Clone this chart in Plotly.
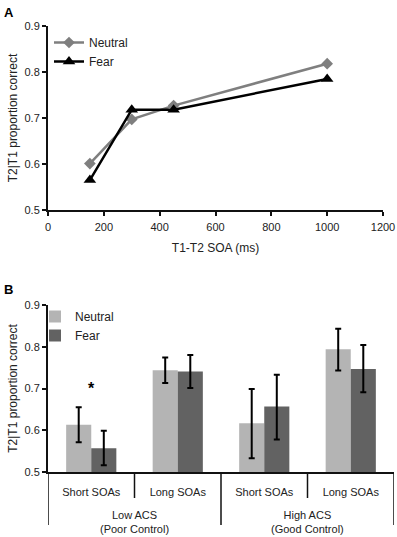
import plotly.graph_objects as go

# Panel A data
soa_ms = [150, 300, 450, 1000]
neutral_line = [0.601, 0.697, 0.727, 0.818]
fear_line = [0.565, 0.718, 0.718, 0.785]
a_xticks = [0, 200, 400, 600, 800, 1000, 1200]
y_ticks = [0.5, 0.6, 0.7, 0.8, 0.9]
y_ticktext = ["0.5", "0.6", "0.7", "0.8", "0.9"]

# Panel B data
group_labels = ["Low ACS<br>(Poor Control)", "Low ACS<br>(Poor Control)",
                "High ACS<br>(Good Control)", "High ACS<br>(Good Control)"]
soa_labels = ["Short SOAs", "Long SOAs", "Short SOAs", "Long SOAs"]
neutral_bar = [0.613, 0.744, 0.617, 0.794]
neutral_err_hi = [0.042, 0.030, 0.082, 0.049]
neutral_err_lo = [0.042, 0.031, 0.084, 0.051]
fear_bar = [0.557, 0.741, 0.657, 0.747]
fear_err_hi = [0.042, 0.039, 0.076, 0.057]
fear_err_lo = [0.041, 0.040, 0.079, 0.056]

FONT = "Liberation Sans, Arial, sans-serif"
AX = "#111111"
TXT = "#222222"

pos = list(range(len(soa_labels)))
groups = []
for g in group_labels:
    if g not in groups:
        groups.append(g)
group_idx = {g: [i for i, gg in enumerate(group_labels) if gg == g] for g in groups}
group_centers = {g: sum(v) / len(v) for g, v in group_idx.items()}
inner_bounds = [i + 0.5 for i in pos[:-1]]
outer_bounds = [-0.5] + [group_idx[g][-1] + 0.5 for g in groups]

fig = go.Figure()

fig.add_trace(go.Scatter(
    x=soa_ms, y=neutral_line, name="Neutral", mode="lines+markers",
    line=dict(color="#7f7f7f", width=2.5),
    marker=dict(symbol="diamond", size=9, color="#7f7f7f"),
    xaxis="x", yaxis="y", legend="legend"))
fig.add_trace(go.Scatter(
    x=soa_ms, y=fear_line, name="Fear", mode="lines+markers",
    line=dict(color="#000000", width=2.5),
    marker=dict(symbol="triangle-up", size=11, color="#000000"),
    xaxis="x", yaxis="y", legend="legend"))

fig.add_trace(go.Bar(
    x=pos, y=neutral_bar, name="Neutral",
    marker=dict(color="#b4b4b4", line=dict(width=0)),
    error_y=dict(type="data", symmetric=False, array=neutral_err_hi,
                 arrayminus=neutral_err_lo, color="#000000", thickness=2, width=3),
    xaxis="x2", yaxis="y2", legend="legend2"))
fig.add_trace(go.Bar(
    x=pos, y=fear_bar, name="Fear",
    marker=dict(color="#626262", line=dict(width=0)),
    error_y=dict(type="data", symmetric=False, array=fear_err_hi,
                 arrayminus=fear_err_lo, color="#000000", thickness=2, width=3),
    xaxis="x2", yaxis="y2", legend="legend2"))

axis_common = dict(showline=True, linecolor=AX, linewidth=2, showgrid=False,
                   zeroline=False, ticks="outside", tickcolor=AX, tickwidth=1.5,
                   ticklen=4, tickfont=dict(size=11, color=TXT))

shapes = []
for b in outer_bounds:
    shapes.append(dict(type="line", xref="x2", yref="y2 domain", x0=b, x1=b,
                       y0=0, y1=-53 / 167, line=dict(color=AX, width=1.5)))
for b in inner_bounds:
    if b not in outer_bounds:
        shapes.append(dict(type="line", xref="x2", yref="y2 domain", x0=b, x1=b,
                           y0=0, y1=-26 / 167, line=dict(color=AX, width=1.5)))

annotations = [
    dict(text="<b>A</b>", x=0, y=1, xref="paper", yref="paper", xshift=-46, yshift=-3,
         xanchor="left", yanchor="top", showarrow=False, font=dict(size=13, color="#000")),
    dict(text="<b>B</b>", x=0, y=(537 - 280) / 537, xref="paper", yref="paper", xshift=-46,
         xanchor="left", yanchor="top", showarrow=False, font=dict(size=13, color="#000")),
    dict(text="<b>*</b>", x=pos[0], y=0.7, xref="x2", yref="y2",
         showarrow=False, font=dict(size=16, color="#000")),
]
for g in groups:
    annotations.append(dict(text=g, x=group_centers[g], y=0, xref="x2", yref="y2 domain",
                            yanchor="top", yshift=-35, showarrow=False,
                            font=dict(size=11, color=TXT)))

fig.update_layout(
    width=397, height=537,
    margin=dict(l=48, r=3, t=0, b=0),
    paper_bgcolor="white", plot_bgcolor="white",
    font=dict(family=FONT, color=TXT),
    showlegend=True,
    barmode="group", bargap=0.42, bargroupgap=0,
    xaxis=dict(domain=[0, 335 / 346], range=[0, 1200], tickvals=a_xticks,
               anchor="y", title=dict(text="T1-T2 SOA (ms)", font=dict(size=12), standoff=11),
               automargin=False, ticklabeloverflow="allow", ticklabelstandoff=2,
               **axis_common),
    yaxis=dict(domain=[(537 - 210) / 537, (537 - 26) / 537], range=[0.5, 0.9],
               tickvals=y_ticks, ticktext=y_ticktext,
               anchor="x", title=dict(text="T2|T1 proportion correct", font=dict(size=12), standoff=4),
               automargin=False, **axis_common),
    xaxis2=dict(domain=[0, 1], anchor="y2", range=[-0.5, len(pos) - 0.5],
                tickvals=pos, ticktext=soa_labels,
                showline=True, linecolor=AX, linewidth=2, showgrid=False, zeroline=False,
                ticks="", ticklabelstandoff=9,
                tickfont=dict(size=11, color=TXT), automargin=False),
    yaxis2=dict(domain=[(537 - 472) / 537, (537 - 305) / 537], range=[0.5, 0.9],
                tickvals=y_ticks, ticktext=y_ticktext,
                anchor="x2", title=dict(text="T2|T1 proportion correct", font=dict(size=12), standoff=4),
                automargin=False, **axis_common),
    legend=dict(x=1 / 346, y=(537 - 28) / 537, xanchor="left", yanchor="top",
                font=dict(size=12, color=TXT), bgcolor="rgba(0,0,0,0)",
                itemwidth=30),
    legend2=dict(x=-13 / 346, y=(537 - 302) / 537, xanchor="left", yanchor="top",
                 font=dict(size=12, color=TXT), bgcolor="rgba(0,0,0,0)",
                 itemwidth=30),
    shapes=shapes,
    annotations=annotations,
)

fig.write_html("out.html", config={"displayModeBar": False},
               post_script="document.body.style.margin='0';")
